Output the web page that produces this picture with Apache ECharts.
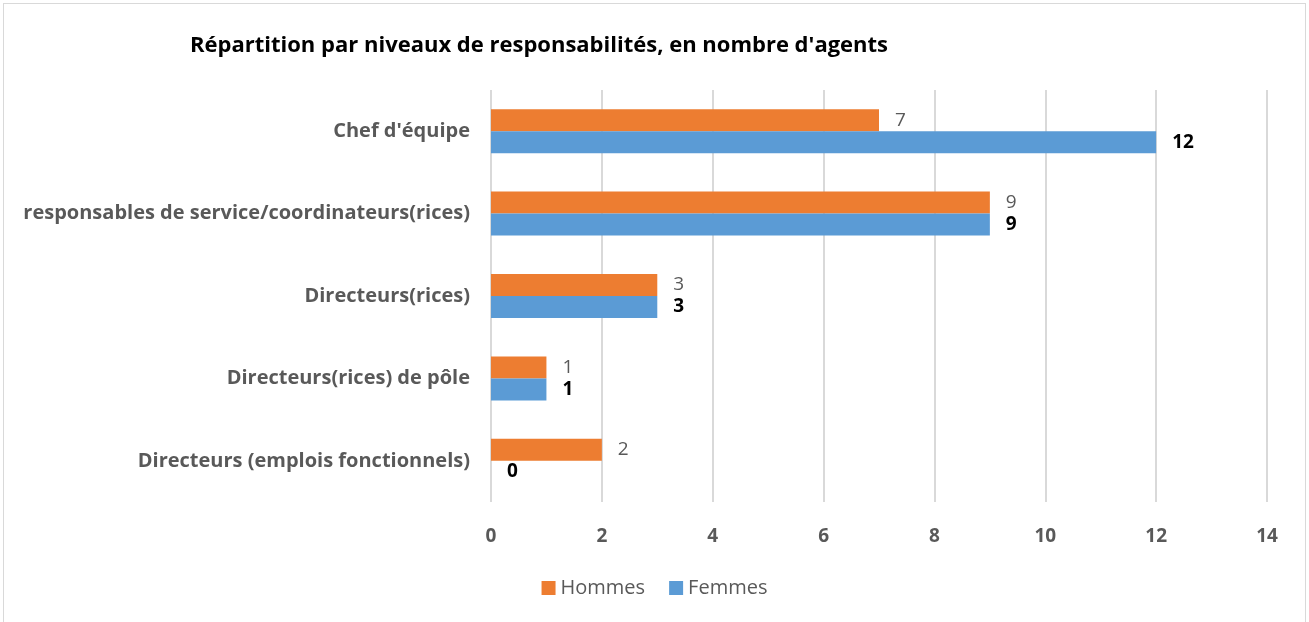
<!DOCTYPE html>
<html>
<head>
<meta charset="utf-8">
<script src="https://cdn.jsdelivr.net/npm/echarts@6/dist/echarts.min.js"></script>
<style>
  html, body { margin: 0; padding: 0; background: #fff; }
  #frame { position: absolute; left: 3px; top: 3px; width: 1303px; height: 630px; border: 1px solid #d9d9d9; box-sizing: border-box; }
  #chart { width: 1309px; height: 622px; position: absolute; left: 0; top: 0; }
</style>
</head>
<body>
<div id="frame"></div>
<div id="chart"></div>
<script>
// categories from top to bottom
const categories = [
  "Chef d'équipe",
  'responsables de service/coordinateurs(rices)',
  'Directeurs(rices)',
  'Directeurs(rices) de pôle',
  'Directeurs (emplois fonctionnels)'
]
const hommes = [7, 9, 3, 1, 2]
const femmes = [12, 9, 3, 1, 0]
const xTicks = [0, 2, 4, 6, 8, 10, 12, 14]

const myChart = echarts.init(document.getElementById('chart'))
const options = {
  animation: false,
  textStyle: { fontFamily: 'Open Sans' },
  title: {
    text: "Répartition par niveaux de responsabilités, en nombre d'agents",
    left: 185,
    top: 30,
    textStyle: {
      color: '#000',
      fontSize: 22,
      fontWeight: 'bold',
      fontFamily: 'Open Sans'
    }
  },
  legend: {
    bottom: 19,
    left: 'center',
    itemWidth: 14,
    itemHeight: 14,
    itemGap: 24,
    icon: 'rect',
    textStyle: { color: '#595959', fontSize: 20, fontFamily: 'Open Sans' },
    data: ['Hommes', 'Femmes']
  },
  grid: {
    left: 491,
    right: 42,
    top: 90,
    bottom: 120
  },
  xAxis: {
    type: 'value',
    min: 0,
    max: 14,
    interval: 2,
    axisLine: { show: false },
    axisTick: { show: false },
    splitLine: { lineStyle: { color: '#d9d9d9', width: 2 } },
    axisLabel: {
      color: '#595959',
      fontSize: 19,
      fontWeight: 'bold',
      margin: 25,
      formatter: v => xTicks.includes(v) ? String(v) : ''
    }
  },
  yAxis: {
    type: 'category',
    inverse: true,
    data: categories,
    axisLine: { show: false },
    axisTick: { show: false },
    axisLabel: {
      color: '#595959',
      fontSize: 20,
      fontWeight: 'bold',
      margin: 21
    }
  },
  series: [
    {
      name: 'Hommes',
      type: 'bar',
      barWidth: 22,
      barGap: '0%',
      itemStyle: { color: '#ed7d31' },
      label: {
        show: true,
        position: 'right',
        distance: 16,
        color: '#595959',
        fontSize: 19
      },
      data: hommes
    },
    {
      name: 'Femmes',
      type: 'bar',
      barWidth: 22,
      barGap: '0%',
      itemStyle: { color: '#5b9bd5' },
      label: {
        show: true,
        position: 'right',
        distance: 16,
        color: '#000',
        fontSize: 19,
        fontWeight: 'bold'
      },
      data: femmes
    }
  ]
}
myChart.setOption(options)
</script>
</body>
</html>
